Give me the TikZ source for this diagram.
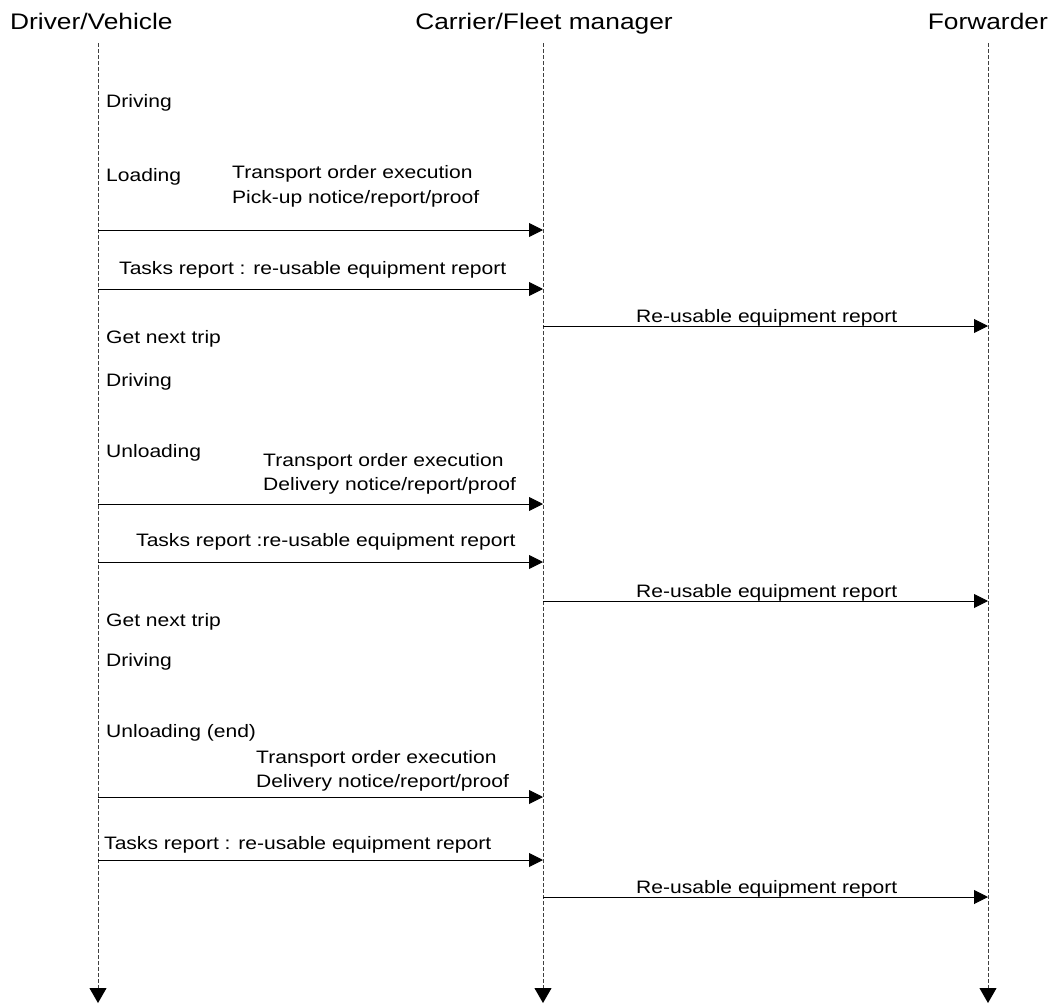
\documentclass[tikz,border=0pt]{standalone}
\usepackage{fontspec}
\setmainfont{Liberation Sans}[FakeStretch=1.17]
\usetikzlibrary{arrows.meta}
\begin{document}
\begin{tikzpicture}[x=1pt,y=-1pt,
  head/.style={font=\fontsize{22.5}{27}\selectfont, inner sep=0pt, anchor=base},
  lbl/.style={font=\fontsize{18}{22}\selectfont, inner sep=0pt, anchor=base west},
  lifeline/.style={draw=black!75, line width=0.9pt, dash pattern=on 4pt off 2pt, -{Triangle[length=15pt,width=17pt,color=black]}},
  msg/.style={draw=black, line width=0.9pt, -{Triangle[length=14pt,width=14pt]}}]
\useasboundingbox (0,0) rectangle (1053,1005);

% headers
\node[head, anchor=base west] (hd) at (10,29) {Driver/Vehicle};
\node[head] (hc) at (544,29) {Carrier/Fleet manager};
\node[head, anchor=base east] (hf) at (1048,29) {Forwarder};

% lifelines
\coordinate (dtop) at (98,43);   \coordinate (dbot) at (98,1003);
\coordinate (ctop) at (543,43);  \coordinate (cbot) at (543,1003);
\coordinate (ftop) at (988,43);  \coordinate (fbot) at (988,1003);
\draw[lifeline] (dtop) -- (dbot);
\draw[lifeline] (ctop) -- (cbot);
\draw[lifeline] (ftop) -- (fbot);

% activity labels
\node[lbl] (a1) at (106,107) {Driving};
\node[lbl] (a2) at (106,181) {Loading};
\node[lbl] (a3) at (106,343) {Get next trip};
\node[lbl] (a4) at (106,386) {Driving};
\node[lbl] (a5) at (106,457) {Unloading};
\node[lbl] (a6) at (106,626) {Get next trip};
\node[lbl] (a7) at (106,666) {Driving};
\node[lbl] (a8) at (106,737) {Unloading (end)};

% message 1
\node[lbl] (t1a) at (232,178) {Transport order execution};
\node[lbl] (t1b) at (232,203) {Pick-up notice/report/proof};
\coordinate (m1s) at (98,230); \coordinate (m1e) at (543,230);
\draw[msg] (m1s) -- (m1e);

% message 2
\node[lbl] (t2) at (119,274) {Tasks report : re-usable equipment report};
\coordinate (m2s) at (98,289); \coordinate (m2e) at (543,289);
\draw[msg] (m2s) -- (m2e);

% message 3
\node[lbl] (t3) at (636,322) {Re-usable equipment report};
\coordinate (m3s) at (543,326); \coordinate (m3e) at (988,326);
\draw[msg] (m3s) -- (m3e);

% message 4
\node[lbl] (t4a) at (263,466) {Transport order execution};
\node[lbl] (t4b) at (263,490) {Delivery notice/report/proof};
\coordinate (m4s) at (98,504); \coordinate (m4e) at (543,504);
\draw[msg] (m4s) -- (m4e);

% message 5
\node[lbl] (t5) at (136,546) {Tasks report :re-usable equipment report};
\coordinate (m5s) at (98,562); \coordinate (m5e) at (543,562);
\draw[msg] (m5s) -- (m5e);

% message 6
\node[lbl] (t6) at (636,597) {Re-usable equipment report};
\coordinate (m6s) at (543,601); \coordinate (m6e) at (988,601);
\draw[msg] (m6s) -- (m6e);

% message 7
\node[lbl] (t7a) at (256,763) {Transport order execution};
\node[lbl] (t7b) at (256,787) {Delivery notice/report/proof};
\coordinate (m7s) at (98,797); \coordinate (m7e) at (543,797);
\draw[msg] (m7s) -- (m7e);

% message 8
\node[lbl] (t8) at (104,849) {Tasks report : re-usable equipment report};
\coordinate (m8s) at (98,860); \coordinate (m8e) at (543,860);
\draw[msg] (m8s) -- (m8e);

% message 9
\node[lbl] (t9) at (636,893) {Re-usable equipment report};
\coordinate (m9s) at (543,897); \coordinate (m9e) at (988,897);
\draw[msg] (m9s) -- (m9e);
\end{tikzpicture}
\end{document}
